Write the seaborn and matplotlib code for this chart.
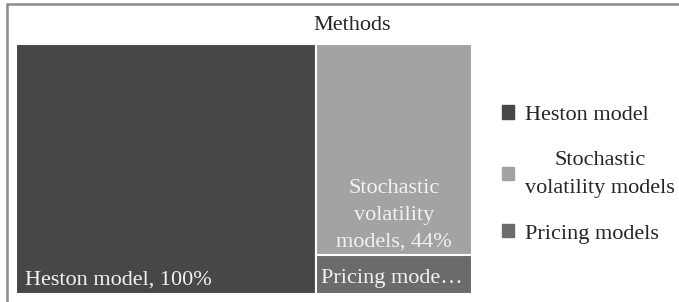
import matplotlib.pyplot as plt
import matplotlib.patches as mpatches
import seaborn as sns

# treemap data
methods = ["Heston model", "Stochastic volatility models", "Pricing models"]
shares = [100, 44, 8]
labels_in_box = ["Heston model, 100%", "Stochastic\nvolatility\nmodels, 44%", "Pricing mode…"]
legend_labels = ["Heston model", "Stochastic\nvolatility models", "Pricing models"]
colors = ["#474747", "#a3a3a3", "#6b6b6b"]

sns.set_theme(style="white")
plt.rcParams['font.family'] = ['Liberation Serif', 'DejaVu Serif']

fig = plt.figure(figsize=(6.79, 3.02), dpi=100)
W, H = 679, 302
ax = fig.add_axes([16 / W, 8 / H, 456 / W, 250.5 / H])

# simple slice-and-dice layout: first item gets its own column,
# the rest are stacked in the right column
total = sum(shares)
w0 = shares[0] / total
rest = sum(shares[1:])
rects = [(0, 0, w0, 1)]
top = 1.0
for v in shares[1:]:
    h = v / rest
    rects.append((w0, top - h, 1 - w0, h))
    top -= h

for (x, y, w, h), c in zip(rects, colors):
    ax.bar(x, h, width=w, bottom=y, align="edge", color=c,
           edgecolor="white", linewidth=1.5)

txt = dict(color="#f2f2f2", fontsize=16)
x, y, w, h = rects[0]
ax.text(x + 0.02, y + 0.018, labels_in_box[0], ha="left", va="bottom", **txt)
x, y, w, h = rects[1]
ax.text(x + w / 2, y + 0.016, labels_in_box[1], ha="center", va="bottom",
        multialignment="center", linespacing=1.55, **txt)
x, y, w, h = rects[2]
ax.text(x + 0.012, y + h / 2 - 0.015, labels_in_box[2], ha="left", va="center", **txt)

ax.set_xlim(0, 1)
ax.set_ylim(0, 1)
ax.axis("off")

fig.text(352 / W, 1 - 30 / H, "Methods", ha="center", va="baseline",
         fontsize=16, color="#262626")

handles = [mpatches.Patch(color=c) for c in colors]
leg = fig.legend(handles, legend_labels, loc="center left",
                 bbox_to_anchor=(493 / W, 1 - 174.5 / H), frameon=False,
                 fontsize=16, labelspacing=1.15, handlelength=0.55,
                 handleheight=0.55, handletextpad=0.5, borderaxespad=0,
                 borderpad=0.4)
for t in leg.get_texts():
    t.set_multialignment("center")
    t.set_color("#262626")
    t.set_linespacing(1.7)

# outer chart frame (left and top edges visible)
fig.add_artist(mpatches.Rectangle((6.5 / W, -0.1), 1.2, 1.1 - 4.5 / H,
                                  transform=fig.transFigure, fill=False,
                                  edgecolor="#8c8c8c", linewidth=1.8))

fig.savefig("out.png", dpi=100)
